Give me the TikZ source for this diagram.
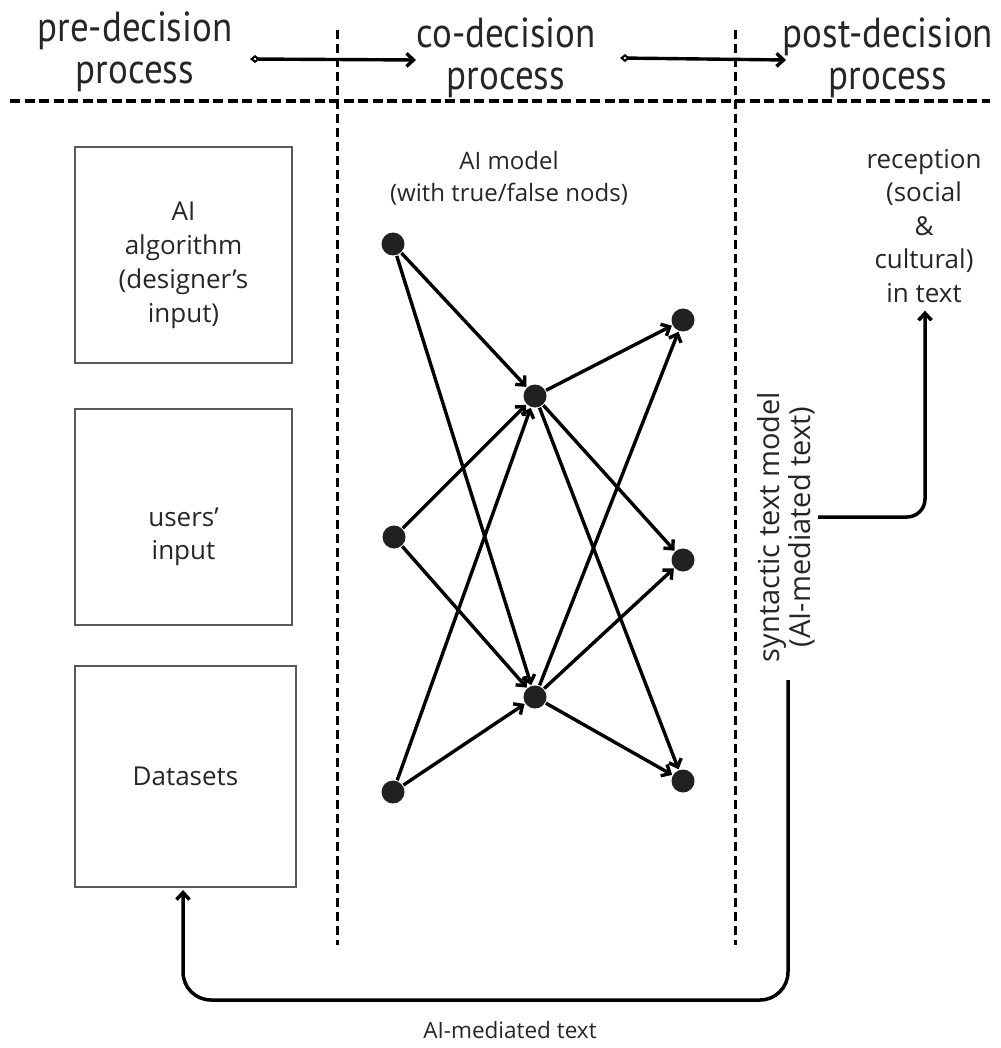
\documentclass[tikz,border=0pt]{standalone}
\usepackage{fontspec}
\setmainfont{Open Sans}
\newfontfamily\headfont[FakeStretch=0.88]{PT Sans}
\usetikzlibrary{arrows.meta,calc}
\begin{document}
\begin{tikzpicture}[x=1pt,y=-1pt,
  every node/.style={inner sep=0pt,outer sep=0pt},
  head/.style={font=\headfont\fontsize{42}{42}\selectfont,align=center,text=black!85},
  body/.style={font=\fontsize{26}{34}\selectfont,align=center,text=black!85},
  small/.style={font=\fontsize{24}{32}\selectfont,align=center,text=black!85},
  boxshape/.style={draw=black!65,line width=2pt,minimum width=217pt,minimum height=216pt},
  neuron/.style={circle,fill=black!87,minimum size=23pt,outer sep=1pt},
  edge/.style={line width=3.4pt,-{Straight Barb[length=7pt,width=13pt]}},
  flow/.style={line width=3.5pt,-{Straight Barb[length=7pt,width=13pt]}},
  phase/.style={line width=3.4pt,{Diamond[open,fill=white,length=10pt,width=8pt,line width=2pt]}-{Straight Barb[length=7pt,width=13pt]}},
  divider/.style={line width=3pt,dash pattern=on 9pt off 5pt}
]
\useasboundingbox (0,0) rectangle (1000,1048);

% phase headings
\node[head] (pre)  at (135,52) {pre-decision\\process};
\node[head] (co)   at (506,58) {co-decision\\process};
\node[head] (post) at (888,58) {post-decision\\process};

% phase transitions
\coordinate (a1s) at (250,59);
\coordinate (a1e) at (416,60);
\coordinate (a2s) at (620,58);
\coordinate (a2e) at (786,60);
\draw[phase] (a1s) -- (a1e);
\draw[phase] (a2s) -- (a2e);

% dividers
\coordinate (h1) at (10,101);
\coordinate (h2) at (990,101);
\draw[divider,line width=3.2pt,dash pattern=on 10pt off 4.5pt] (h1) -- (h2);
\coordinate (v1t) at (337,30);
\coordinate (v1b) at (337,945);
\coordinate (v2t) at (735,30);
\coordinate (v2b) at (735,945);
\draw[divider] (v1t) -- (v1b);
\draw[divider] (v2t) -- (v2b);

% pre-decision inputs
\node[boxshape] (box1) at (183.5,255) {};
\node[boxshape] (box2) at (183.5,516.5) {};
\node[boxshape,minimum width=221pt,minimum height=221pt] (box3) at (185.5,776.5) {};
\node[body] (t1) at (183.5,265) {AI\\algorithm\\(designer’s\\input)};
\node[body,font=\fontsize{26}{33}\selectfont] (t2) at (183.5,537) {users’\\input};
\node[body] (t3) at (185.5,776) {Datasets};

% AI model
\node[small] (model) at (509,178) {AI model\\(with true/false nods)};
\node[neuron] (L1) at (393,244) {};
\node[neuron] (L2) at (394,537) {};
\node[neuron] (L3) at (393,792) {};
\node[neuron] (M1) at (535,396) {};
\node[neuron] (M2) at (535,697) {};
\node[neuron] (R1) at (683,320) {};
\node[neuron] (R2) at (683,560) {};
\node[neuron] (R3) at (683,781) {};
\foreach \a in {L1,L2,L3}
  \foreach \b in {M1,M2}
    \draw[edge] (\a) -- (\b);
\foreach \a in {M1,M2}
  \foreach \b in {R1,R2,R3}
    \draw[edge] (\a) -- (\b);

% output of the model
\node[body,rotate=90,font=\fontsize{29}{31}\selectfont] (synt) at (786,527) {syntactic text model\\(AI-mediated text)};
\node[body,font=\fontsize{26}{33.5}\selectfont] (recv) at (924,226) {reception\\(social\\\&\\cultural)\\in text};
\coordinate (s1) at (818,517);
\draw[flow,rounded corners=18pt] (s1) -| ($(recv.south)+(1,8)$);

% feedback loop
\coordinate (b1) at (788,680);
\coordinate (b2) at (183,1000);
\draw[flow,rounded corners=28pt] (b1) |- (b2) -- ($(box3.south-|b2)+(0,3)$);
\node[small,font=\fontsize{22.5}{30}\selectfont] (fb) at (510,1030) {AI-mediated text};
\end{tikzpicture}
\end{document}
